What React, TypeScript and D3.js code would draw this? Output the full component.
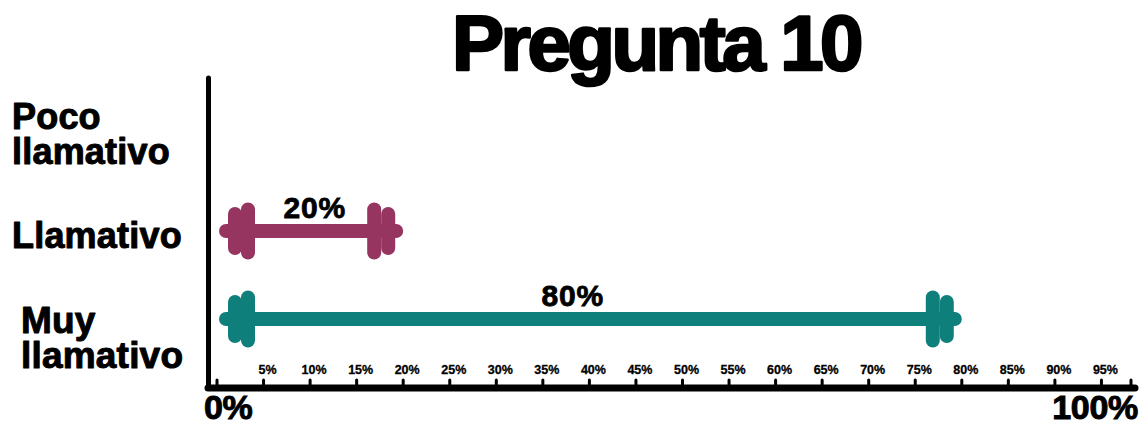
import React from "react";
import * as d3 from "d3";

const title = "Pregunta 10";
const categories = ["Poco llamativo", "Llamativo", "Muy llamativo"];
const categoryLines = [["Poco", "llamativo"], ["Llamativo"], ["Muy", "llamativo"]];
const values = [0, 20, 80];
const valueLabels = ["", "20%", "80%"];
const labelAt = [0, 10.5, 38.2];
const colors = ["#963560", "#963560", "#0f7f7b"];
const tickValues = [5, 10, 15, 20, 25, 30, 35, 40, 45, 50, 55, 60, 65, 70, 75, 80, 85, 90, 95];
const tickLabels = tickValues.map((v) => `${v}%`);
const endLabels = ["0%", "100%"];

const W = 1144;
const H = 425;
const FONT = "'Liberation Sans', Arial, sans-serif";

export default function App() {
  const x = d3.scaleLinear().domain([0, 100]).range([217, 1148]);
  const y = d3.scalePoint<string>().domain(categories).range([143, 319]);
  const axisY = 388;
  const axisEnd = 1135;
  const barH = 14;

  const labelOffsets: Record<string, { dx: number; dys: number[]; size: number }> = {
    "Poco llamativo": { dx: 12, dys: [-14, 21], size: 36 },
    Llamativo: { dx: 12, dys: [17], size: 36 },
    "Muy llamativo": { dx: 21, dys: [14, 49], size: 37 },
  };

  const plate = (cx: number, cy: number, w: number, h: number, fill: string, key: string) => (
    <rect key={key} x={cx - w / 2} y={cy - h / 2} width={w} height={h} rx={w / 2} ry={w / 2} fill={fill} />
  );

  return (
    <svg width={W} height={H} style={{ display: "block", position: "absolute", left: 0, top: 0 }}>
      <rect width={W} height={H} fill="#ffffff" />
      <text
        x={656}
        y={70}
        textAnchor="middle"
        fontFamily={FONT}
        fontWeight={700}
        fontSize={78}
        letterSpacing={-3.5}
        stroke="#000"
        strokeWidth={2.6}
        strokeLinejoin="round"
        fill="#000"
      >
        {title}
      </text>

      {categories.map((c, i) => {
        const o = labelOffsets[c];
        const cy = y(c)!;
        return (
          <text
            key={c}
            fontFamily={FONT}
            fontWeight={700}
            fontSize={o.size}
            letterSpacing={0.2}
            stroke="#000"
            strokeWidth={1}
            strokeLinejoin="round"
            fill="#000"
          >
            {categoryLines[i].map((ln, j) => (
              <tspan key={j} x={o.dx} y={cy + o.dys[j]}>
                {ln}
              </tspan>
            ))}
          </text>
        );
      })}

      {/* dumbbells */}
      {categories.map((c, i) => {
        const v = values[i];
        if (v <= 0) return null;
        const cy = y(c)!;
        const L = x(0) + 2;
        const R = x(v);
        const col = colors[i];
        return (
          <g key={c}>
            <rect x={L} y={cy - barH / 2} width={R - L} height={barH} rx={barH / 2} fill={col} />
            {plate(L + 16, cy, 14, 48, col, "lo")}
            {plate(L + 29, cy, 14, 57, col, "li")}
            {plate(R - 29, cy, 14, 57, col, "ri")}
            {plate(R - 15, cy, 14, 48, col, "ro")}
            <text
              x={x(labelAt[i])}
              y={cy - 13}
              textAnchor="middle"
              fontFamily={FONT}
              fontWeight={700}
              fontSize={30}
              letterSpacing={0.8}
              stroke="#000"
              strokeWidth={0.8}
              fill="#000"
            >
              {valueLabels[i]}
            </text>
          </g>
        );
      })}

      {/* y axis */}
      <line x1={208.5} x2={208.5} y1={78} y2={axisY} stroke="#000" strokeWidth={5} strokeLinecap="round" />
      {/* x axis */}
      <line x1={208} x2={axisEnd} y1={axisY} y2={axisY} stroke="#000" strokeWidth={7} strokeLinecap="round" />
      {[0, ...tickValues].map((t) => (
        <line key={t} x1={x(t)} x2={x(t)} y1={380} y2={axisY} stroke="#000" strokeWidth={3} strokeLinecap="round" />
      ))}
      <line x1={axisEnd - 4} x2={axisEnd - 4} y1={380} y2={axisY} stroke="#000" strokeWidth={3} strokeLinecap="round" />
      {tickValues.map((t, i) => (
        <text
          key={t}
          x={x(t) + 4}
          y={374}
          textAnchor="middle"
          fontFamily={FONT}
          fontWeight={700}
          fontSize={12.5}
          stroke="#000"
          strokeWidth={0.3}
          fill="#000"
        >
          {tickLabels[i]}
        </text>
      ))}
      <text x={204} y={419} fontFamily={FONT} fontWeight={700} fontSize={34} fill="#000" stroke="#000" strokeWidth={1} letterSpacing={-0.3}>
        {endLabels[0]}
      </text>
      <text x={1138} y={419} textAnchor="end" fontFamily={FONT} fontWeight={700} fontSize={34} fill="#000" stroke="#000" strokeWidth={1} letterSpacing={-0.3}>
        {endLabels[1]}
      </text>
    </svg>
  );
}
